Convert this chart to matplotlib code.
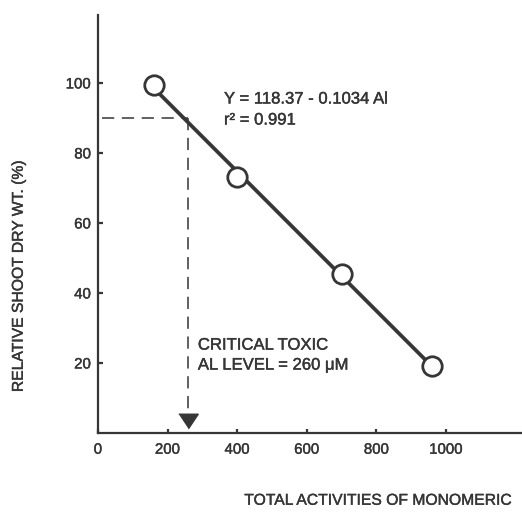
import matplotlib
matplotlib.use("Agg")
import matplotlib.pyplot as plt
import matplotlib.patheffects as pe
import numpy as np

plt.rcParams["font.family"] = ["Liberation Sans", "DejaVu Sans"]

# data
al_activity = np.array([160, 400, 700, 960])      # uM
rel_dry_wt = np.array([99.5, 73.0, 45.5, 19.0])   # %
critical_al = 260
critical_y = 90
x_ticks = [0, 200, 400, 600, 800, 1000]
y_ticks = [20, 40, 60, 80, 100]

INK = "#363636"
# slightly heavier strokes, like the print
heavy = [pe.withStroke(linewidth=0.3, foreground=INK)]

fig = plt.figure(figsize=(5.22, 5.16), dpi=100)
ax = fig.add_axes([0.1877, 0.1609, 0.8123, 0.810])
ax.set_xlim(0, 1218)
ax.set_ylim(0, 119.4)

# fitted line through the points
slope, icpt = np.polyfit(al_activity, rel_dry_wt, 1)
xl = np.array([al_activity.min(), al_activity.max()])
ax.plot(xl, icpt + slope * xl, color=INK, lw=2.7, solid_capstyle="butt",
        zorder=3)
ax.plot(al_activity, rel_dry_wt, "o", ms=14, mfc="white", mec=INK, mew=2.0,
        zorder=4)

# critical level guides
ax.plot([12, critical_al], [critical_y, critical_y], color=INK, lw=1.1,
        dashes=(8, 5), zorder=2)
ax.plot([critical_al, critical_al], [critical_y, 6.5], color=INK, lw=1.1,
        dashes=(8, 5), zorder=2)
ax.plot([critical_al], [3.5], marker=[(-1, 0.75), (1, 0.75), (0, -0.75)],
        ms=14, color=INK, mec=INK, zorder=3)

# annotations
for y, s in [(95.4, "Y = 118.37 - 0.1034 Al"), (89.4, "r² = 0.991")]:
    ax.text(362, y, s, fontsize=12, color=INK, va="center", ha="left",
            path_effects=heavy)
for y, s in [(25.1, "CRITICAL TOXIC"), (19.4, "AL LEVEL = 260 μM")]:
    ax.text(287, y, s, fontsize=12, color=INK, va="center", ha="left",
            path_effects=heavy)

# axes styling
for s in ("top", "right"):
    ax.spines[s].set_visible(False)
for s in ("left", "bottom"):
    ax.spines[s].set_color(INK)
    ax.spines[s].set_linewidth(1.6)
ax.set_xticks(x_ticks)
ax.set_yticks(y_ticks)
ax.tick_params(axis="y", direction="in", length=3.5, width=1.6, color=INK,
               labelsize=10.8, labelcolor=INK, pad=5)
ax.tick_params(axis="x", direction="in", length=3, width=1.6, color=INK,
               labelsize=10.8, labelcolor=INK, pad=7)
for lab in ax.get_xticklabels() + ax.get_yticklabels():
    lab.set_path_effects(heavy)

fig.text(0.035, 0.465, "RELATIVE SHOOT DRY WT. (%)", rotation=90,
         fontsize=11.3, color=INK, ha="center", va="center",
         path_effects=heavy)
fig.text(0.468, 0.016, "TOTAL ACTIVITIES OF MONOMERIC",
         fontsize=11.3, color=INK, ha="left", va="bottom",
         path_effects=heavy)

fig.savefig("out.png", dpi=100)
